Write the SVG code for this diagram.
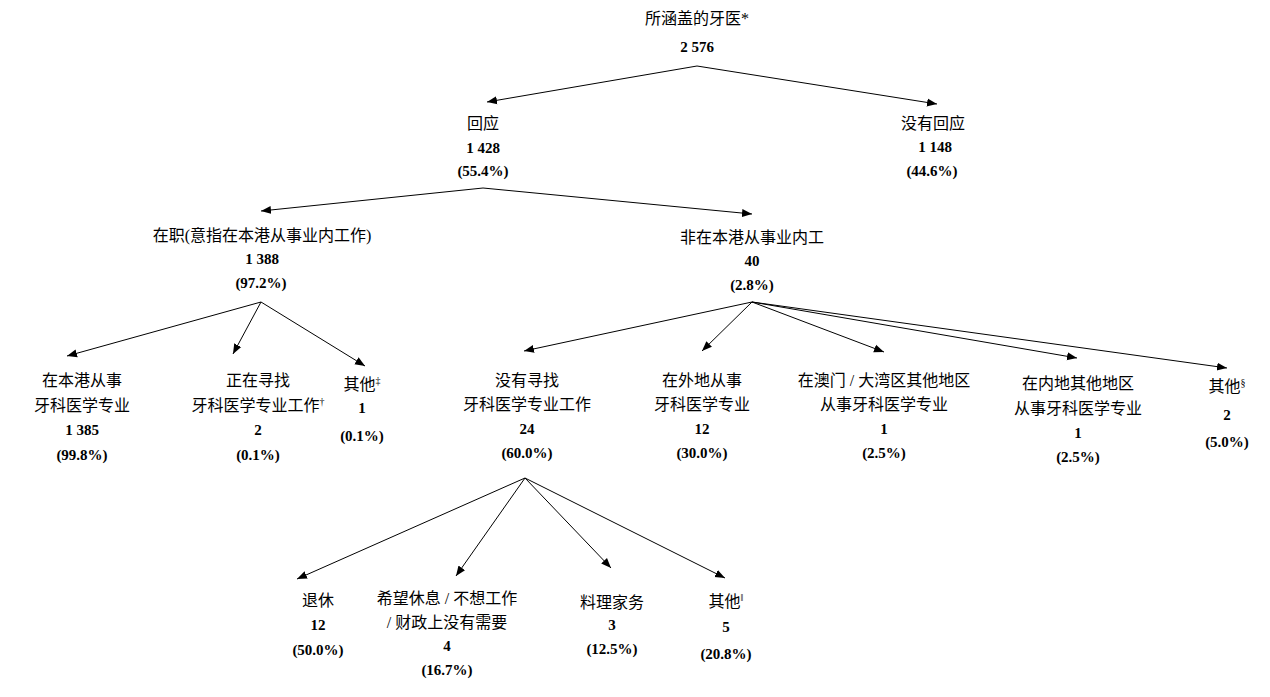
<svg xmlns="http://www.w3.org/2000/svg" width="1270" height="697" viewBox="0 0 1270 697">
<style>
text{text-anchor:middle;fill:#000}
.c{font-family:"Liberation Serif","Noto Sans CJK SC",serif;font-size:16px}
.n{font-family:"Liberation Serif",serif;font-size:15px;font-weight:bold}
.s{font-size:10px}
line{stroke:#000;stroke-width:1;marker-end:url(#a)}
</style>
<defs><marker id="a" viewBox="0 0 10 10" refX="10" refY="5" markerWidth="10" markerHeight="10" markerUnits="userSpaceOnUse" orient="auto"><path d="M0,1 L10,5 L0,9 z" fill="#000"/></marker></defs>
<rect width="1270" height="697" fill="#fff"/>
<g id="connectors">
<line x1="697" y1="66" x2="487" y2="102"/><line x1="697" y1="66" x2="937" y2="104"/>
<line x1="483" y1="188" x2="261" y2="211"/><line x1="483" y1="188" x2="752" y2="214"/>
<line x1="261" y1="302" x2="67" y2="356"/><line x1="261" y1="302" x2="233" y2="354"/><line x1="261" y1="302" x2="365" y2="366"/>
<line x1="752" y1="302" x2="524" y2="351"/><line x1="752" y1="302" x2="702" y2="351"/><line x1="752" y1="302" x2="884" y2="352"/><line x1="752" y1="302" x2="1077" y2="358"/><line x1="752" y1="302" x2="1227" y2="368"/>
<line x1="525" y1="478" x2="297" y2="579"/><line x1="525" y1="478" x2="456" y2="576"/><line x1="525" y1="478" x2="611" y2="568"/><line x1="525" y1="478" x2="725" y2="578"/>
</g>
<g id="root"><text class="c" x="697" y="24">所涵盖的牙医*</text><text class="n" x="697" y="52">2 576</text></g>
<g id="resp"><text class="c" x="483" y="129">回应</text><text class="n" x="483" y="153">1 428</text><text class="n" x="483" y="176">(55.4%)</text></g>
<g id="noresp"><text class="c" x="933" y="129">没有回应</text><text class="n" x="935" y="152">1 148</text><text class="n" x="932" y="176">(44.6%)</text></g>
<g id="employed"><text class="c" x="262" y="241">在职(意指在本港从事业内工作)</text><text class="n" x="262" y="264">1 388</text><text class="n" x="261" y="288">(97.2%)</text></g>
<g id="notemployed"><text class="c" x="752" y="243">非在本港从事业内工</text><text class="n" x="752" y="266">40</text><text class="n" x="752" y="290">(2.8%)</text></g>
<g id="local"><text class="c" x="82" y="386">在本港从事</text><text class="c" x="82" y="411">牙科医学专业</text><text class="n" x="82" y="435">1 385</text><text class="n" x="82" y="460">(99.8%)</text></g>
<g id="seeking"><text class="c" x="258" y="386">正在寻找</text><text class="c" x="258" y="411">牙科医学专业工作<tspan class="s" dy="-6">†</tspan></text><text class="n" x="258" y="435">2</text><text class="n" x="258" y="460">(0.1%)</text></g>
<g id="other1"><text class="c" x="362" y="390">其他<tspan class="s" dy="-6">‡</tspan></text><text class="n" x="362" y="413">1</text><text class="n" x="362" y="441">(0.1%)</text></g>
<g id="notseeking"><text class="c" x="527" y="386">没有寻找</text><text class="c" x="527" y="410">牙科医学专业工作</text><text class="n" x="527" y="434">24</text><text class="n" x="527" y="458">(60.0%)</text></g>
<g id="abroad"><text class="c" x="702" y="386">在外地从事</text><text class="c" x="702" y="410">牙科医学专业</text><text class="n" x="702" y="434">12</text><text class="n" x="702" y="458">(30.0%)</text></g>
<g id="macau"><text class="c" x="884" y="386">在澳门 / 大湾区其他地区</text><text class="c" x="884" y="410">从事牙科医学专业</text><text class="n" x="884" y="434">1</text><text class="n" x="884" y="458">(2.5%)</text></g>
<g id="mainland"><text class="c" x="1078" y="389">在内地其他地区</text><text class="c" x="1078" y="414">从事牙科医学专业</text><text class="n" x="1078" y="438">1</text><text class="n" x="1078" y="462">(2.5%)</text></g>
<g id="other2"><text class="c" x="1227" y="392">其他<tspan class="s" dy="-6">§</tspan></text><text class="n" x="1227" y="420">2</text><text class="n" x="1227" y="447">(5.0%)</text></g>
<g id="retired"><text class="c" x="318" y="606">退休</text><text class="n" x="318" y="630">12</text><text class="n" x="318" y="655">(50.0%)</text></g>
<g id="rest"><text class="c" x="447" y="604">希望休息 / 不想工作</text><text class="c" x="447" y="628">/ 财政上没有需要</text><text class="n" x="447" y="651">4</text><text class="n" x="447" y="675">(16.7%)</text></g>
<g id="home"><text class="c" x="612" y="608">料理家务</text><text class="n" x="612" y="630">3</text><text class="n" x="612" y="654">(12.5%)</text></g>
<g id="other3"><text class="c" x="726" y="607">其他<tspan class="s" dy="-6">‖</tspan></text><text class="n" x="726" y="632">5</text><text class="n" x="726" y="659">(20.8%)</text></g>
</svg>
